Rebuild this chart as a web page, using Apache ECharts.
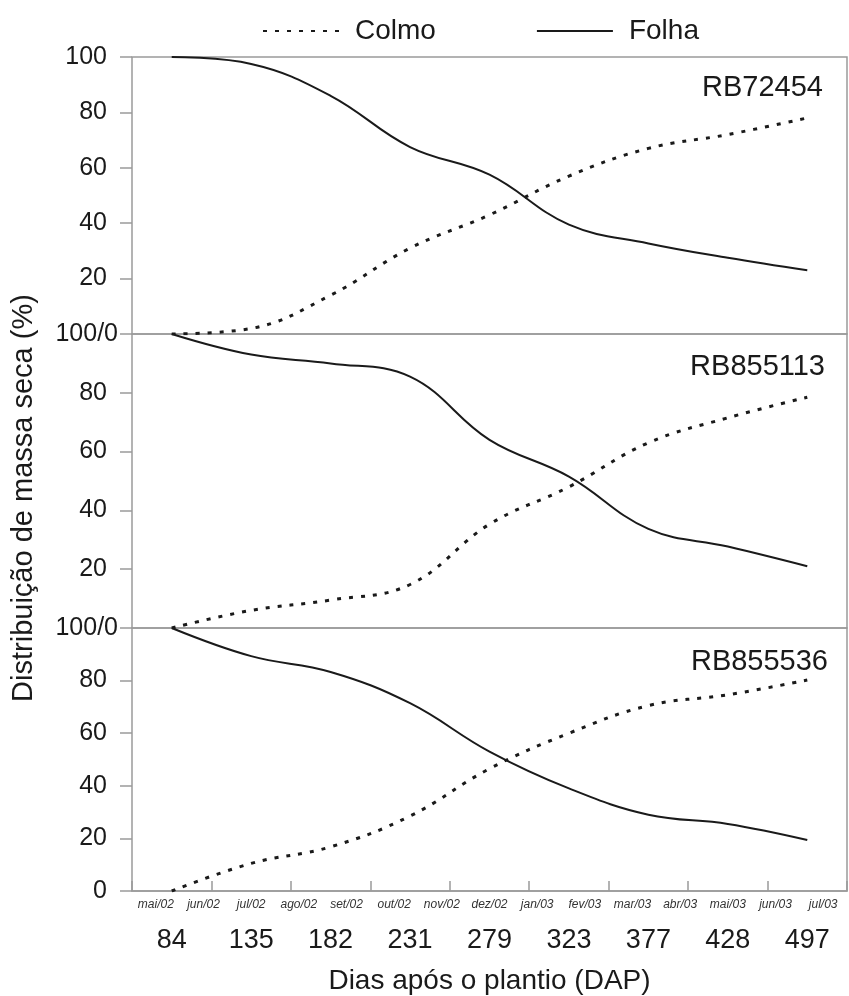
<!DOCTYPE html>
<html>
<head>
<meta charset="utf-8">
<script src="https://cdn.jsdelivr.net/npm/echarts@6/dist/echarts.min.js"></script>
<style>
  html, body { margin: 0; padding: 0; background: #ffffff; }
  #chart { width: 849px; height: 996px; }
</style>
</head>
<body>
<div id="chart"></div>
<script>
// ---- data ----
const dap = ['84', '135', '182', '231', '279', '323', '377', '428', '497'];
const months = ['mai/02', 'jun/02', 'jul/02', 'ago/02', 'set/02', 'out/02', 'nov/02', 'dez/02',
                'jan/03', 'fev/03', 'mar/03', 'abr/03', 'mai/03', 'jun/03', 'jul/03'];
const yTicks = [0, 20, 40, 60, 80, 100];
const varieties = ['RB72454', 'RB855113', 'RB855536'];

const colmoRB72454  = [0, 2, 14, 31, 43, 57, 67, 72, 78];
const folhaRB72454  = [100, 97.5, 86, 67.5, 57.5, 39.5, 32.7, 27.5, 23];
const colmoRB855113 = [0, 6, 9.5, 14.8, 35.3, 48, 63, 71.5, 78.5];
const folhaRB855113 = [100, 93, 90, 85.5, 64, 51.5, 33.7, 27.7, 21];
const colmoRB855536 = [0, 10.5, 16.8, 28.5, 46.5, 60, 70.5, 74.6, 80.2];
const folhaRB855536 = [100, 89.3, 83.3, 71.4, 53, 39, 29, 25.5, 19.4];

const colmo = [colmoRB72454, colmoRB855113, colmoRB855536];
const folha = [folhaRB72454, folhaRB855113, folhaRB855536];

// ---- layout / style ----
const FONT = '"Liberation Sans", Arial, sans-serif';
const AXIS_GRAY = '#9a9a9a';
const INK = '#1a1a1a';
const grids = [
  { left: 132, right: 2, top: 57, height: 277 },
  { left: 132, right: 2, top: 334, height: 294 },
  { left: 132, right: 2, top: 628, height: 263 }
];

function yFormatter(panel) {
  return function (v) {
    if (v === 100) return panel === 0 ? '{a|100}' : '';
    if (v === 0) return panel === 2 ? '{a|0}' : '{b|100/0}';
    return '{a|' + v + '}';
  };
}

const option = {
  animation: false,
  backgroundColor: '#ffffff',
  textStyle: { fontFamily: FONT },
  legend: {
    left: 257, top: 12,
    itemWidth: 76, itemHeight: 14, itemGap: 100,
    data: ['Colmo', 'Folha'],
    itemStyle: { opacity: 0 },
    textStyle: { fontFamily: FONT, fontSize: 28, color: INK, padding: [0, 0, 0, 11] }
  },
  title: varieties.map((v, i) => ({
    text: v,
    right: [21, 19, 16][i],
    top: [68, 347, 642][i],
    textStyle: { fontFamily: FONT, fontSize: 29, fontWeight: 'normal', color: INK }
  })),
  graphic: [{
    type: 'text',
    x: 24, y: 498,
    rotation: Math.PI / 2,
    style: {
      text: 'Distribuição de massa seca (%)',
      font: '29px ' + FONT,
      fill: INK,
      align: 'center',
      verticalAlign: 'middle'
    }
  }],
  grid: grids.map(g => Object.assign({
    show: true, borderColor: AXIS_GRAY, borderWidth: 1.5, backgroundColor: 'transparent'
  }, g)),
  xAxis: [
    { type: 'category', gridIndex: 0, data: dap, boundaryGap: true,
      axisLine: { show: false }, axisTick: { show: false }, axisLabel: { show: false } },
    { type: 'category', gridIndex: 1, data: dap, boundaryGap: true,
      axisLine: { show: false }, axisTick: { show: false }, axisLabel: { show: false } },
    { type: 'category', gridIndex: 2, data: dap, boundaryGap: true, position: 'bottom',
      name: 'Dias após o plantio (DAP)', nameLocation: 'middle', nameGap: 76,
      nameTextStyle: { fontFamily: FONT, fontSize: 28, color: INK },
      axisLine: { show: true, lineStyle: { color: AXIS_GRAY, width: 1.5 } },
      axisTick: { show: true, inside: true, length: 10, interval: 0, lineStyle: { color: AXIS_GRAY, width: 1.5 } },
      axisLabel: { fontFamily: FONT, fontSize: 27, color: INK, margin: 36, interval: 0 } },
    { type: 'category', gridIndex: 2, data: months, boundaryGap: true, position: 'bottom',
      axisLine: { show: false }, axisTick: { show: false },
      axisLabel: { fontFamily: FONT, fontSize: 12, fontStyle: 'italic', color: '#333', margin: 8, interval: 0 } }
  ],
  yAxis: [0, 1, 2].map(i => ({
    type: 'value', gridIndex: i, min: yTicks[0], max: yTicks[yTicks.length - 1], interval: 20,
    axisLine: { show: false },
    axisTick: { show: true, length: 12, lineStyle: { color: AXIS_GRAY, width: 1.5 } },
    splitLine: { show: false },
    axisLabel: {
      margin: 14,
      formatter: yFormatter(i),
      rich: {
        a: { fontFamily: FONT, fontSize: 25, color: INK, padding: [0, 11, 0, 0] },
        b: { fontFamily: FONT, fontSize: 25, color: INK }
      }
    }
  })),
  series: []
};

for (let i = 0; i < 3; i++) {
  option.series.push({
    name: 'Colmo', type: 'line', xAxisIndex: i, yAxisIndex: i,
    data: colmo[i], smooth: 0.4, symbol: 'none',
    lineStyle: { color: INK, width: 3, type: [4, 8], cap: 'butt' },
    itemStyle: { color: INK }
  });
  option.series.push({
    name: 'Folha', type: 'line', xAxisIndex: i, yAxisIndex: i,
    data: folha[i], smooth: 0.4, symbol: 'none',
    lineStyle: { color: INK, width: 2, type: 'solid' },
    itemStyle: { color: INK }
  });
}

const chart = echarts.init(document.getElementById('chart'), null, { renderer: 'canvas' });
chart.setOption(option);
</script>
</body>
</html>
